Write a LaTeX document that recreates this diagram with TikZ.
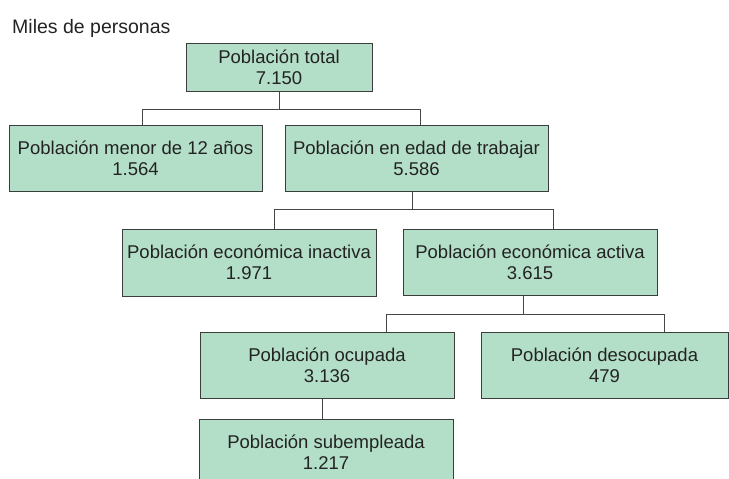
\documentclass[tikz,border=0pt]{standalone}
\usepackage{fontspec}
\setmainfont{Liberation Sans}
\begin{document}
\begin{tikzpicture}[x=1pt,y=-1pt,
  box/.style={draw=boxline, fill=boxfill, line width=1.0pt, inner sep=0pt,
    align=center, font=\fontsize{18.5}{21}\selectfont, text=textcol},
  conn/.style={draw=connline, line width=1.0pt}]
\definecolor{boxfill}{RGB}{179,222,199}
\definecolor{boxline}{RGB}{60,60,60}
\definecolor{connline}{RGB}{70,70,70}
\definecolor{textcol}{RGB}{35,35,35}
\clip (0,0) rectangle (729,479);
\node[anchor=base west, inner sep=0pt, font=\fontsize{19.5}{22}\selectfont, text=textcol] (title) at (12,33) {Miles de personas};
\node[box, minimum width=186, minimum height=48] (tot) at (279,67) {Población total\\7.150};
\node[box, minimum width=253, minimum height=66] (men) at (135.5,158) {Población menor de 12 años\\1.564};
\node[box, minimum width=263, minimum height=66] (eda) at (416.5,158) {Población en edad de trabajar\\5.586};
\node[box, minimum width=254, minimum height=67] (ina) at (249,262.5) {Población económica inactiva\\1.971};
\node[box, minimum width=254, minimum height=66] (act) at (530,262) {Población económica activa\\3.615};
\node[box, minimum width=254, minimum height=66] (ocu) at (327,365) {Población ocupada\\3.136};
\node[box, minimum width=247, minimum height=66] (des) at (604.5,365) {Población desocupada\\479};
\node[box, minimum width=254, minimum height=66] (sub) at (326,452) {Población subempleada\\1.217};
% connectors
\draw[conn] (tot.south) -- ++(0,18) coordinate (h1);
\draw[conn] ([xshift=6.5]men.north) |- (h1) -| ([xshift=3.5]eda.north);
\draw[conn] ([xshift=-4.5]eda.south) -- ++(0,18) coordinate (h2);
\draw[conn] ([xshift=25]ina.north) |- (h2) -| ([xshift=23]act.north);
\draw[conn] ([xshift=-7]act.south) -- ++(0,19) coordinate (h3);
\draw[conn] ([xshift=59]ocu.north) |- (h3) -| ([xshift=59.5]des.north);
\draw[conn] ([xshift=-5]ocu.south) -- ([xshift=-4]sub.north);
\end{tikzpicture}
\end{document}
